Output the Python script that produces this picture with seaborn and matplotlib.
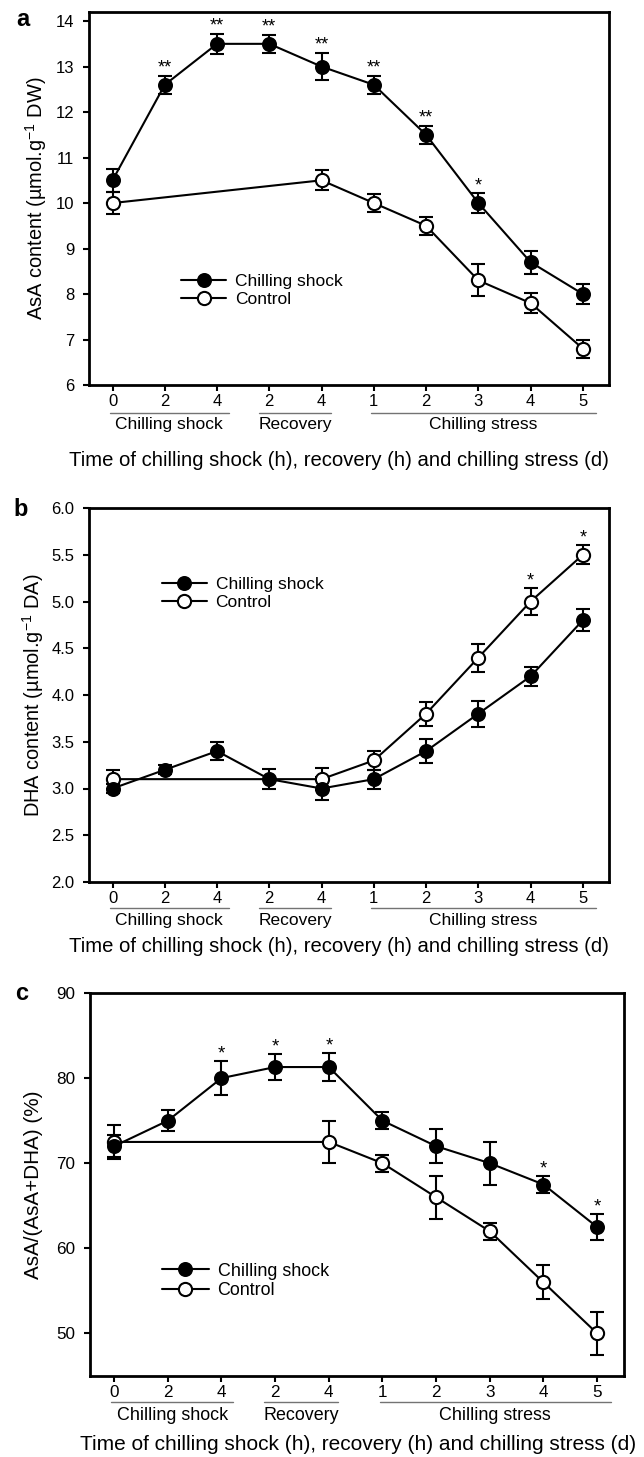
import matplotlib
matplotlib.use("Agg")
import matplotlib.pyplot as plt
import numpy as np
import pandas as pd
import seaborn as sns
from matplotlib.transforms import blended_transform_factory, offset_copy

# ---------------- data ----------------
x_idx = list(range(10))
tick_labels = ['0', '2', '4', '2', '4', '1', '2', '3', '4', '5']
groups = ['Chilling shock', 'Recovery', 'Chilling stress']
group_spans = [(-0.05, 2.22), (2.8, 4.18), (4.95, 9.25)]
ctrl_idx = [0, 4, 5, 6, 7, 8, 9]
series_names = ['Chilling shock', 'Control']

asa_shock = [10.5, 12.6, 13.5, 13.5, 13.0, 12.6, 11.5, 10.0, 8.7, 8.0]
asa_shock_err = [0.25, 0.2, 0.22, 0.2, 0.3, 0.2, 0.2, 0.22, 0.25, 0.22]
asa_ctrl = [10.0, 10.5, 10.0, 9.5, 8.3, 7.8, 6.8]
asa_ctrl_err = [0.25, 0.22, 0.2, 0.2, 0.35, 0.22, 0.2]
asa_stars = ['', '**', '**', '**', '**', '**', '**', '*', '', '']

dha_shock = [3.0, 3.2, 3.4, 3.1, 3.0, 3.1, 3.4, 3.8, 4.2, 4.8]
dha_shock_err = [0.05, 0.05, 0.1, 0.11, 0.12, 0.1, 0.13, 0.14, 0.1, 0.12]
dha_ctrl = [3.1, 3.1, 3.3, 3.8, 4.4, 5.0, 5.5]
dha_ctrl_err = [0.1, 0.12, 0.1, 0.13, 0.15, 0.14, 0.1]
dha_stars = ['', '', '', '', '', '*', '*']   # placed on control series

ratio_shock = [72, 75, 80, 81.3, 81.3, 75, 72, 70, 67.5, 62.5]
ratio_shock_err = [1.3, 1.2, 2.0, 1.5, 1.6, 1.0, 2.0, 2.5, 1.0, 1.5]
ratio_ctrl = [72.5, 72.5, 70, 66, 62, 56, 50]
ratio_ctrl_err = [2.0, 2.5, 1.0, 2.5, 1.0, 2.0, 2.5]
ratio_stars = ['', '', '*', '*', '*', '', '', '', '*', '*']

# ---------------- style ----------------
sns.set_theme(style="ticks")
plt.rcParams['font.family'] = ['Liberation Sans', 'DejaVu Sans']
plt.rcParams['mathtext.fontset'] = 'custom'
plt.rcParams['mathtext.rm'] = 'Liberation Sans'
plt.rcParams['mathtext.it'] = 'Liberation Sans:italic'
plt.rcParams['mathtext.bf'] = 'Liberation Sans:bold'
plt.rcParams['text.color'] = 'black'
plt.rcParams['axes.labelcolor'] = 'black'
plt.rcParams['xtick.color'] = 'black'
plt.rcParams['ytick.color'] = 'black'

W, H = 644, 1457
fig = plt.figure(figsize=(W / 100, H / 100), dpi=100)
fig.patch.set_facecolor('white')


def px_axes(l, t, r, b):
    return fig.add_axes([l / W, 1 - b / H, (r - l) / W, (b - t) / H])


def panel(box, shock, shock_err, ctrl, ctrl_err, stars, star_on_ctrl,
          ylim, yticks, yfmt, ylabel, ylabel_x, leg_xy, letter, letter_xy,
          offs, scale=1.0):
    ax = px_axes(*box)
    df_s = pd.DataFrame({'x': x_idx, 'y': shock, 'e': shock_err})
    df_c = pd.DataFrame({'x': ctrl_idx, 'y': ctrl, 'e': ctrl_err})

    ax.errorbar(df_s['x'], df_s['y'], yerr=df_s['e'], fmt='none', ecolor='black',
                elinewidth=1.5, capsize=4.8, capthick=1.5, zorder=2)
    ax.errorbar(df_c['x'], df_c['y'], yerr=df_c['e'], fmt='none', ecolor='black',
                elinewidth=1.5, capsize=4.8, capthick=1.5, zorder=2)
    sns.lineplot(data=df_s, x='x', y='y', ax=ax, color='black', linewidth=1.5,
                 marker='o', markersize=9.5, markerfacecolor='black',
                 markeredgecolor='black', markeredgewidth=1.3,
                 label=series_names[0], zorder=4, errorbar=None)
    sns.lineplot(data=df_c, x='x', y='y', ax=ax, color='black', linewidth=1.5,
                 marker='o', markersize=9.5, markerfacecolor='white',
                 markeredgecolor='black', markeredgewidth=1.5,
                 label=series_names[1], zorder=3, errorbar=None)

    ax.set_xlim(-0.45, 9.5)
    ax.set_ylim(*ylim)
    ax.set_xticks(x_idx)
    ax.set_xticklabels(tick_labels)
    ax.set_yticks(yticks)
    ax.set_yticklabels([yfmt.format(v) for v in yticks])
    ax.tick_params(direction='out', length=4.5, width=1.5, labelsize=12 * scale,
                   pad=2, colors='black')
    ax.tick_params(axis='y', pad=6)
    for sp in ax.spines.values():
        sp.set_visible(True)
        sp.set_linewidth(2.0)
        sp.set_color('black')
    ax.set_xlabel('')
    ax.set_ylabel('')
    ax.grid(False)

    # stars
    st_tr = offset_copy(ax.transData, fig=fig, y=3, units='dots')
    if star_on_ctrl:
        xs, ys, es = ctrl_idx, ctrl, ctrl_err
    else:
        xs, ys, es = x_idx, shock, shock_err
    for xv, yv, ev, s in zip(xs, ys, es, stars):
        if s:
            ax.text(xv, yv + ev, s, transform=st_tr, ha='center', va='baseline',
                    fontsize=13 * scale, color='black')

    # legend
    h, l = ax.get_legend_handles_labels()
    leg = ax.legend(h, l, loc='center left', bbox_to_anchor=leg_xy, frameon=False,
                    borderpad=0, borderaxespad=0, handlelength=2.6,
                    handletextpad=0.5, labelspacing=0.15, fontsize=12.5 * scale)
    for t in leg.get_texts():
        t.set_color('black')

    # group underlines and labels
    bt = blended_transform_factory(ax.transData, ax.transAxes)
    line_tr = offset_copy(bt, fig=fig, y=-offs[0], units='dots')
    grp_tr = offset_copy(bt, fig=fig, y=-offs[1], units='dots')
    for name, (a, b) in zip(groups, group_spans):
        ax.plot([a, b], [0, 0], transform=line_tr, color='0.45', lw=1.0,
                clip_on=False)
        ax.text((a + b) / 2, 0, name, transform=grp_tr, ha='center', va='center',
                fontsize=12.5 * scale, color='black')
    xl_tr = offset_copy(ax.transAxes, fig=fig, y=-offs[2], units='dots')
    ax.text(offs[3], 0, 'Time of chilling shock (h), recovery (h) and chilling stress (d)',
            transform=xl_tr, ha='center', va='center', fontsize=14.6 * scale,
            color='black')

    # y label
    ax.text(ylabel_x, 0.5, ylabel, transform=ax.transAxes, rotation=90,
            ha='center', va='center', fontsize=14.4 * scale, color='black')

    fig.text(letter_xy[0] / W, 1 - letter_xy[1] / H, letter, ha='center',
             va='center', fontsize=17, fontweight='bold', color='black')
    return ax


# panel a
panel((89, 12, 609, 385), asa_shock, asa_shock_err, asa_ctrl, asa_ctrl_err,
      asa_stars, False, (6, 14.2), list(range(6, 15)), '{:d}',
      'AsA content (µmol.g$^{-1}$ DW)', (36 - 89) / 520, (0.177, 0.253),
      'a', (23, 19), (28, 40, 75, (339 - 89) / 520))

# panel b
panel((89, 508, 609, 882), dha_shock, dha_shock_err, dha_ctrl, dha_ctrl_err,
      dha_stars, True, (2.0, 6.0), [2.0, 2.5, 3.0, 3.5, 4.0, 4.5, 5.0, 5.5, 6.0],
      '{:.1f}', 'DHA content (µmol.g$^{-1}$ DA)', (33 - 89) / 520, (0.14, 0.772),
      'b', (21, 509), (26, 39, 65, (339 - 89) / 520))

# panel c
panel((90, 993, 624, 1376), ratio_shock, ratio_shock_err, ratio_ctrl, ratio_ctrl_err,
      ratio_stars, False, (45, 90), [50, 60, 70, 80, 90], '{:d}',
      'AsA/(AsA+DHA) (%)', (34 - 90) / 534, (0.135, 0.248),
      'c', (22, 993), (26, 40, 69, (358 - 90) / 534), scale=1.03)

fig.savefig('out.png', dpi=100, facecolor='white')
